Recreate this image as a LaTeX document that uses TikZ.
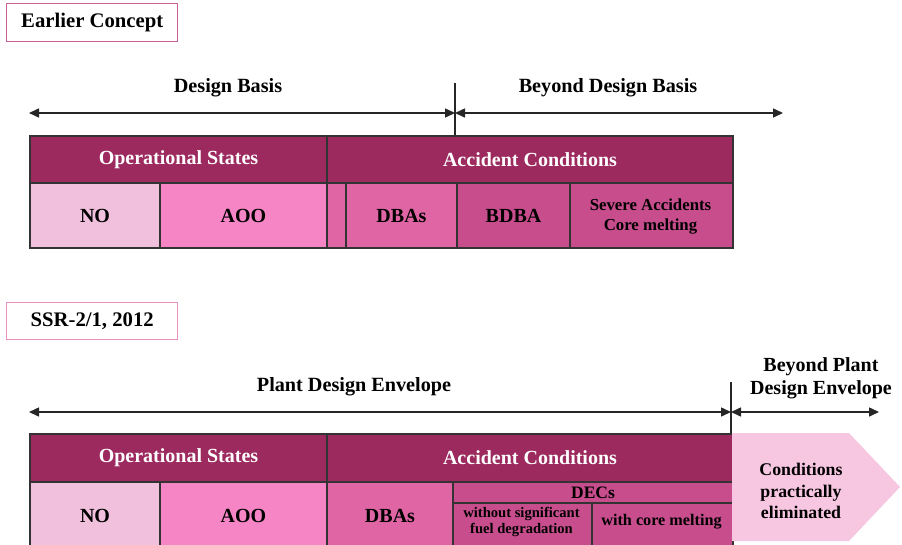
\documentclass[tikz,border=0pt]{standalone}
\usepackage{fontspec}
\setmainfont{Liberation Serif}
\usetikzlibrary{arrows.meta}
\definecolor{hdr}{HTML}{9C2A5E}
\definecolor{nocol}{HTML}{F0C0DC}
\definecolor{aoocol}{HTML}{F585C5}
\definecolor{dbacol}{HTML}{E065A5}
\definecolor{beycol}{HTML}{C84D8D}
\definecolor{pecol}{HTML}{F7C6E0}
\definecolor{edge}{HTML}{333333}
\definecolor{tagA}{HTML}{C8609A}
\definecolor{tagB}{HTML}{E890C0}
\tikzset{
  cell/.style={draw=edge, line width=2pt, anchor=north west, inner sep=0pt,
    font=\fontsize{20}{22}\selectfont\bfseries, align=center},
  head/.style={cell, fill=hdr, text=white},
  tagbox/.style={draw=#1, line width=1.4pt, fill=white, anchor=north west, inner sep=0pt,
    font=\fontsize{20.7}{23}\selectfont\bfseries},
  lbl/.style={font=\fontsize{20.2}{23}\selectfont\bfseries, align=center, inner sep=0pt},
  span/.style={line width=1.5pt, draw=black!85, {Triangle[length=10pt,width=9pt]}-{Triangle[length=10pt,width=9pt]}},
  divider/.style={line width=2.2pt, draw=black!85},
}
\begin{document}
\begin{tikzpicture}[x=1pt,y=-1pt]
\useasboundingbox (0,0) rectangle (902,544);
\clip (0,0) rectangle (902,544);

%% ---------- Earlier concept ----------
\node[tagbox=tagA, minimum width=171pt, minimum height=38pt] (tagone) at (6,3) {Earlier Concept};

\coordinate (dbL) at (29,113);
\coordinate (divAmid) at (455,113);
\coordinate (divAtop) at (455,83);
\coordinate (divAbot) at (455,135);
\coordinate (bdbR) at (783,113);
\draw[divider] (divAtop) -- (divAbot);
\draw[span] (dbL) -- (divAmid);
\draw[span] (divAmid) -- (bdbR);
\node[lbl] (dbtxt) at (228,88) {Design Basis};
\node[lbl] (bdbtxt) at (608,88) {Beyond Design Basis};

\node[head, minimum width=297pt, minimum height=47pt] (opA) at (29,135) {Operational States};
\node[head, minimum width=406pt, minimum height=47pt] (acA) at (326,135) {Accident Conditions};
\node[cell, fill=nocol, minimum width=130pt, minimum height=65pt] (noA) at (29,182) {NO};
\node[cell, fill=aoocol, minimum width=167pt, minimum height=65pt] (aooA) at (159,182) {AOO};
\node[cell, fill=dbacol, minimum width=19pt, minimum height=65pt] (gapA) at (326,182) {};
\node[cell, fill=dbacol, minimum width=111pt, minimum height=65pt] (dbaA) at (345,182) {DBAs};
\node[cell, fill=beycol, minimum width=113pt, minimum height=65pt] (bdbaA) at (456,182) {BDBA};
\node[cell, fill=beycol, minimum width=163pt, minimum height=65pt] (saA) at (569,182) {};
\node[font=\fontsize{16.8}{20}\selectfont\bfseries, align=center, inner sep=0pt] (satxt)
  at (650.5,216.5) {Severe Accidents\\Core melting};

%% ---------- SSR-2/1, 2012 ----------
\node[tagbox=tagB, minimum width=171pt, minimum height=37pt] (tagtwo) at (6,302) {SSR-2/1, 2012};

\coordinate (pdeL) at (29,412);
\coordinate (divBmid) at (731,412);
\coordinate (divBtop) at (731,382);
\coordinate (divBbot) at (731,433);
\coordinate (bpdeR) at (879,412);
\draw[divider] (divBtop) -- (divBbot);
\draw[span] (pdeL) -- (divBmid);
\draw[span] (divBmid) -- (bpdeR);
\node[lbl] (pdetxt) at (354,387) {Plant Design Envelope};
\node[lbl, font=\fontsize{20}{23}\selectfont\bfseries] (bpdetxt) at (821,378.5) {Beyond Plant\\Design Envelope};

\node[head, minimum width=297pt, minimum height=48pt] (opB) at (29,433) {Operational States};
\node[head, minimum width=406pt, minimum height=48pt] (acB) at (326,433) {Accident Conditions};
\node[cell, fill=nocol, minimum width=130pt, minimum height=68pt] (noB) at (29,481) {NO};
\node[cell, fill=aoocol, minimum width=167pt, minimum height=68pt] (aooB) at (159,481) {AOO};
\node[cell, fill=dbacol, minimum width=126pt, minimum height=68pt] (dbaB) at (326,481) {DBAs};
\node[cell, fill=beycol, minimum width=280pt, minimum height=21pt,
  font=\fontsize{17.5}{19}\selectfont\bfseries] (decB) at (452,481) {DECs};
\node[cell, fill=beycol, minimum width=139pt, minimum height=47pt] (wsfB) at (452,502) {};
\node[cell, fill=beycol, minimum width=141pt, minimum height=47pt] (wcmB) at (591,502) {};
\node[font=\fontsize{14.6}{16}\selectfont\bfseries, align=center, inner sep=0pt] (wsftxt)
  at (521.5,521.5) {without significant\\fuel degradation};
\node[font=\fontsize{16.2}{18}\selectfont\bfseries, inner sep=0pt] (wcmtxt) at (661.5,522) {with core melting};

% region beyond the plant design envelope
\fill[pecol] (732,433) -- (849,433) -- (900,487) -- (849,541) -- (732,541) -- cycle;
\node[font=\fontsize{17.8}{21.5}\selectfont\bfseries, align=center, inner sep=0pt] (pelim)
  at (801,491) {Conditions\\practically\\eliminated};
\end{tikzpicture}
\end{document}
